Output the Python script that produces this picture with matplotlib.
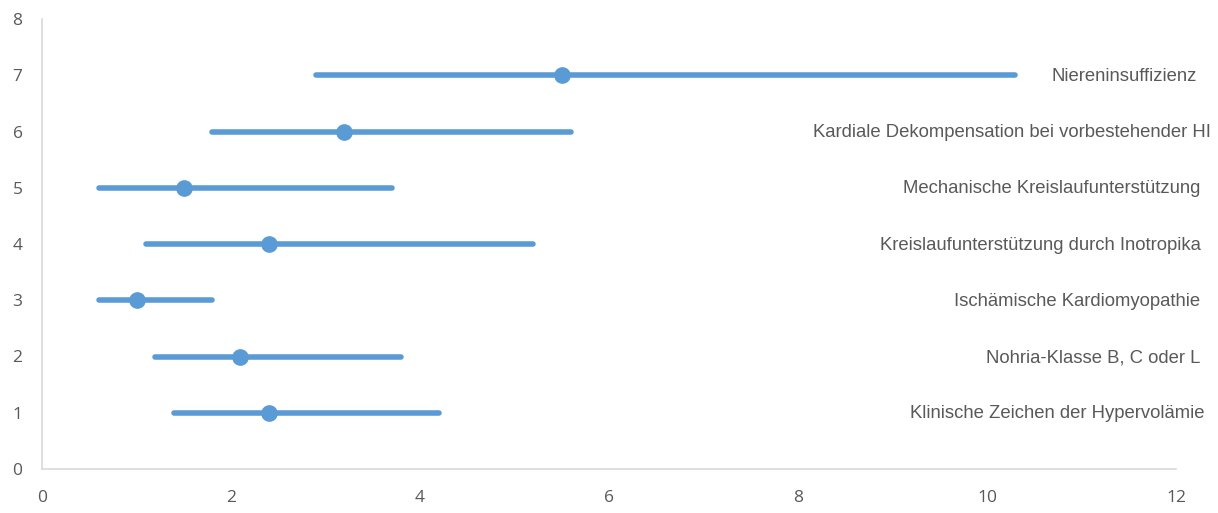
import matplotlib.pyplot as plt

# data: odds ratio with 95% CI per row
rows = [1, 2, 3, 4, 5, 6, 7]
point = [2.4, 2.1, 1.0, 2.4, 1.5, 3.2, 5.5]
lower = [1.4, 1.2, 0.6, 1.1, 0.6, 1.8, 2.9]
upper = [4.2, 3.8, 1.8, 5.2, 3.7, 5.6, 10.3]
labels = ['Klinische Zeichen der Hypervolämie',
          'Nohria-Klasse B, C oder L',
          'Ischämische Kardiomyopathie',
          'Kreislaufunterstützung durch Inotropika',
          'Mechanische Kreislaufunterstützung',
          'Kardiale Dekompensation bei vorbestehender HI',
          'Niereninsuffizienz']

blue = '#5b9bd5'
grey = '#595959'

fig = plt.figure(figsize=(12.18, 5.13), dpi=100)
ax = fig.add_axes([42 / 1218, 44 / 513, 1134 / 1218, 450 / 513])

# CI lines and point estimates
for y, lo, hi, p in zip(rows, lower, upper, point):
    ax.plot([lo, hi], [y, y], color=blue, lw=4, solid_capstyle='round')
    ax.plot(p, y, 'o', color=blue, ms=11)

# labels to the right of the plot area, right-aligned (excel data labels)
label_x = [12.3, 12.26, 12.26, 12.26, 12.26, 12.37, 12.22]
for y, lab, lx in zip(rows, labels, label_x):
    ax.text(lx, y - 0.02, lab, ha='right', va='center', fontsize=13.3,
            color=grey, family='Liberation Sans', clip_on=False)

ax.set_xlim(0, 12)
ax.set_ylim(0, 8)
ax.set_xticks(range(0, 13, 2))
ax.set_yticks(range(0, 9))
for s in ['top', 'right']:
    ax.spines[s].set_visible(False)
for s in ['left', 'bottom']:
    ax.spines[s].set_color('#d9d9d9')
    ax.spines[s].set_linewidth(1.2)
ax.tick_params(length=0, labelsize=12.5, colors=grey)
ax.tick_params(axis='x', pad=15)
ax.tick_params(axis='y', pad=14)
for t in ax.get_xticklabels() + ax.get_yticklabels():
    t.set_family('Open Sans')

fig.savefig('out.png', dpi=100)
